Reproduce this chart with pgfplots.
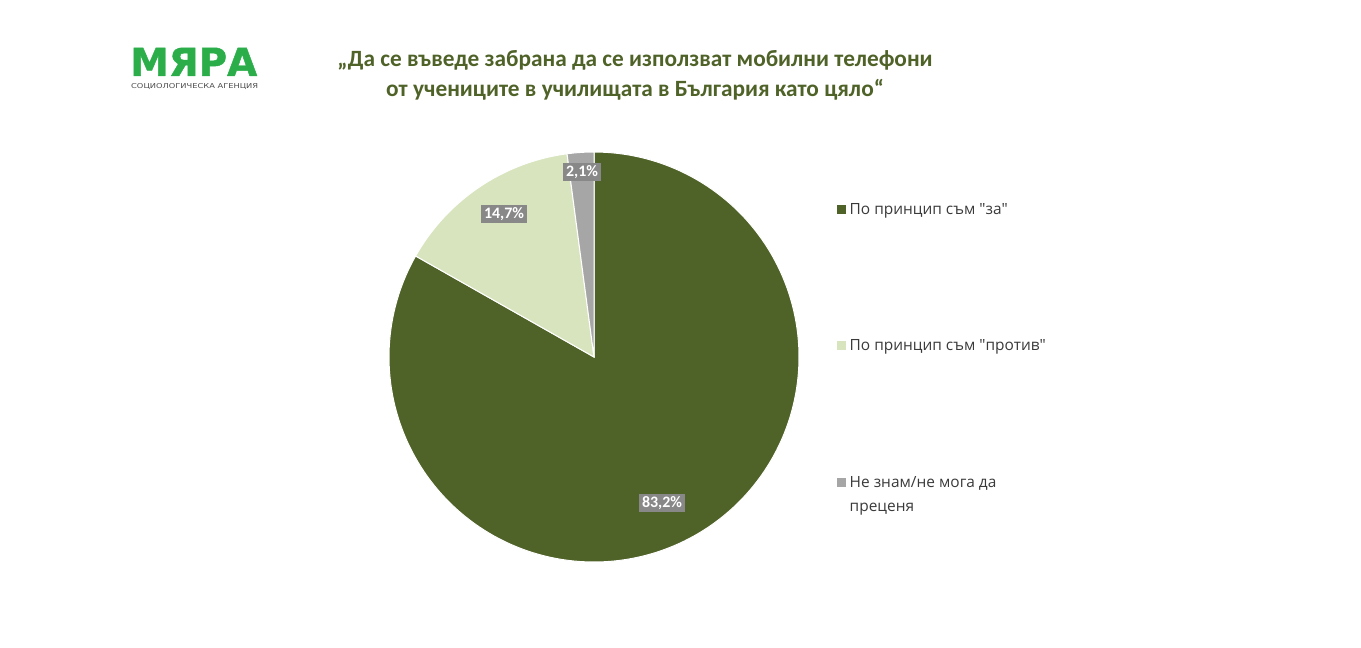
\documentclass[border=0pt]{standalone}
\usepackage{fontspec}
\setmainfont{Open Sans}
\newfontfamily\legfont{Open Sans}
\newfontfamily\titlefont{Carlito}
\newfontfamily\logofont{DejaVu Sans}
\newfontfamily\logoheavy{DejaVu Sans Bold}[FakeBold=1.2]
\usepackage{graphicx}
\usepackage{pgfplots}
\pgfplotsset{compat=1.18}
\definecolor{cZa}{HTML}{4F6228}
\definecolor{cProtiv}{HTML}{D7E4BD}
\definecolor{cNe}{HTML}{A6A6A6}
\definecolor{cTitle}{HTML}{4F6228}
\definecolor{cLogo}{HTML}{2BAE4A}
\definecolor{cLbl}{HTML}{888888}
\definecolor{cLeg}{HTML}{3A3A3A}
% data (percent)
\def\za{83.2}
\def\protiv{14.7}
\def\nezn{2.1}
\pgfmathsetmacro\aA{90-3.6*\za}
\pgfmathsetmacro\aB{\aA-3.6*\protiv}
\pgfmathsetmacro\aC{\aB-3.6*\nezn}
\begin{document}
\begin{tikzpicture}
\path[use as bounding box] (0,0) rectangle (1361bp,648bp);
\begin{axis}[at={(0,0)}, anchor=south west, scale only axis,
  width=1361bp, height=648bp, xmin=0, xmax=1361, ymin=0, ymax=648,
  y dir=reverse, hide axis, clip=false,
  legend image code/.code={\fill[#1,draw=none] (0bp,-4.5bp) rectangle (9bp,4.5bp);},
  legend style={at={(axis cs:837,201)}, anchor=north west, draw=none, fill=none,
    inner sep=0pt, font=\legfont\fontsize{15.5}{24}\selectfont, text=cLeg,
    row sep=120bp, cells={anchor=base west},
    nodes={inner xsep=3.5bp}},
  legend cell align=left]
\addplot[fill=cZa, draw=white, line width=1bp, domain=\aA:90, samples=180]
  ({594+205*cos(x)},{357-205*sin(x)}) -- (axis cs:594,357) -- cycle;
\addlegendentry{По принцип съм "за"}
\addplot[fill=cProtiv, draw=white, line width=1bp, domain=\aB:\aA, samples=40]
  ({594+205*cos(x)},{357-205*sin(x)}) -- (axis cs:594,357) -- cycle;
\addlegendentry{По принцип съм "против"}
\addplot[fill=cNe, draw=white, line width=1bp, domain=\aC:\aB, samples=10]
  ({594+205*cos(x)},{357-205*sin(x)}) -- (axis cs:594,357) -- cycle;
\addlegendentry{\vtop{\hbox{Не знам/не мога да}\hbox{преценя}}}
% data labels
\tikzset{lbl/.style={fill=cLbl, text=white, inner xsep=3bp, inner ysep=2.5bp,
  font=\titlefont\bfseries\fontsize{16}{19}\selectfont}}
\node[lbl] at (axis cs:662,503) {83,2\%};
\node[lbl] at (axis cs:504,214) {14,7\%};
\node[lbl] at (axis cs:582,172) {2,1\%};
% title
\node[align=center, text=cTitle, font=\titlefont\bfseries\fontsize{23.4}{30}\selectfont]
  at (axis cs:635,75) {„Да се въведе забрана да се използват мобилни телефони\\от учениците в училищата в България като цяло“};
% logo
\node[anchor=south west, inner sep=0pt, text=cLogo] at (axis cs:130,76)
  {\resizebox{127bp}{28bp}{\logoheavy МЯРА}};
\node[anchor=north west, inner sep=0pt, text=black!70] at (axis cs:131,83)
  {\resizebox{127bp}{5bp}{\logofont СОЦИОЛОГИЧЕСКА АГЕНЦИЯ}};
\end{axis}
\end{tikzpicture}
\end{document}
